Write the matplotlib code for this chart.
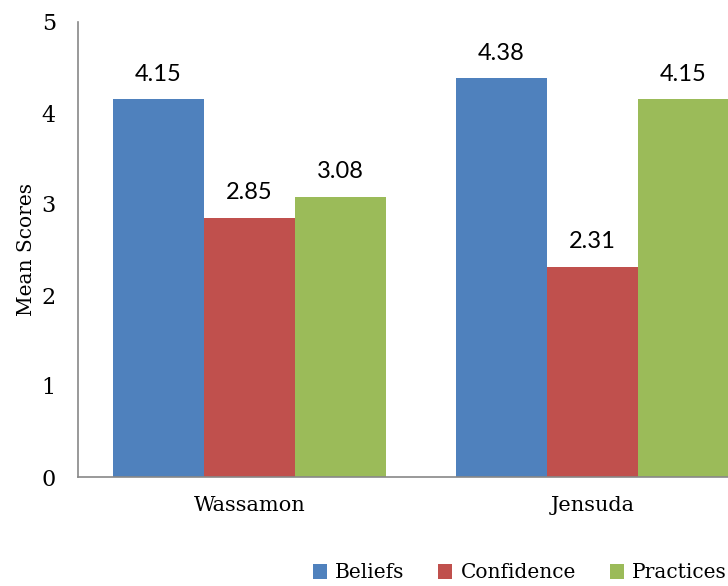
import matplotlib
matplotlib.use("Agg")
import matplotlib.pyplot as plt
import numpy as np

categories = ["Wassamon", "Jensuda"]
series = ["Beliefs", "Confidence", "Practices"]
beliefs = [4.15, 4.38]
confidence = [2.85, 2.31]
practices = [3.08, 4.15]
colors = ["#4F81BD", "#C0504D", "#9BBB59"]
yticks = [0, 1, 2, 3, 4, 5]

serif = ["DejaVu Serif"]
sans = ["Lato", "DejaVu Sans"]

fig = plt.figure(figsize=(7.28, 5.86), dpi=100)
ax = fig.add_axes([78/728, 109/586, 686/728, 455/586])

x = np.arange(len(categories))
w = 0.265
for i, (vals, name, c) in enumerate(zip([beliefs, confidence, practices], series, colors)):
    bars = ax.bar(x + (i - 1) * w, vals, width=w, color=c, label=name, clip_on=False)
    for b, v in zip(bars, vals):
        ax.annotate(f"{v:.2f}", (b.get_x() + b.get_width() / 2, v), xytext=(0, 10.5),
                    textcoords="offset points", ha="center", va="bottom",
                    fontsize=17, family=sans)

ax.set_xlim(-0.5, 1.5)
ax.set_ylim(0, 5)
ax.set_yticks(yticks)
ax.set_yticklabels([str(t) for t in yticks], family=serif, fontsize=16)
ax.set_xticks(x)
ax.set_xticklabels(categories, family=serif, fontsize=15)
ax.tick_params(axis="both", length=0)
ax.tick_params(axis="y", pad=16)
ax.tick_params(axis="x", pad=14)
for s in ["top", "right"]:
    ax.spines[s].set_visible(False)
for s in ["left", "bottom"]:
    ax.spines[s].set_color("#888888")
    ax.spines[s].set_linewidth(1.2)
ax.set_ylabel("Mean Scores", family=serif, fontsize=14.5, labelpad=4)

leg = fig.legend(loc="center right", bbox_to_anchor=(727/728, 1 - 573/586), ncol=3, frameon=False,
                 prop={"family": serif, "size": 14.5}, handlelength=0.7, handleheight=0.7,
                 handletextpad=0.4, columnspacing=1.7, borderpad=0, borderaxespad=0)

fig.savefig("out.png", dpi=100)
